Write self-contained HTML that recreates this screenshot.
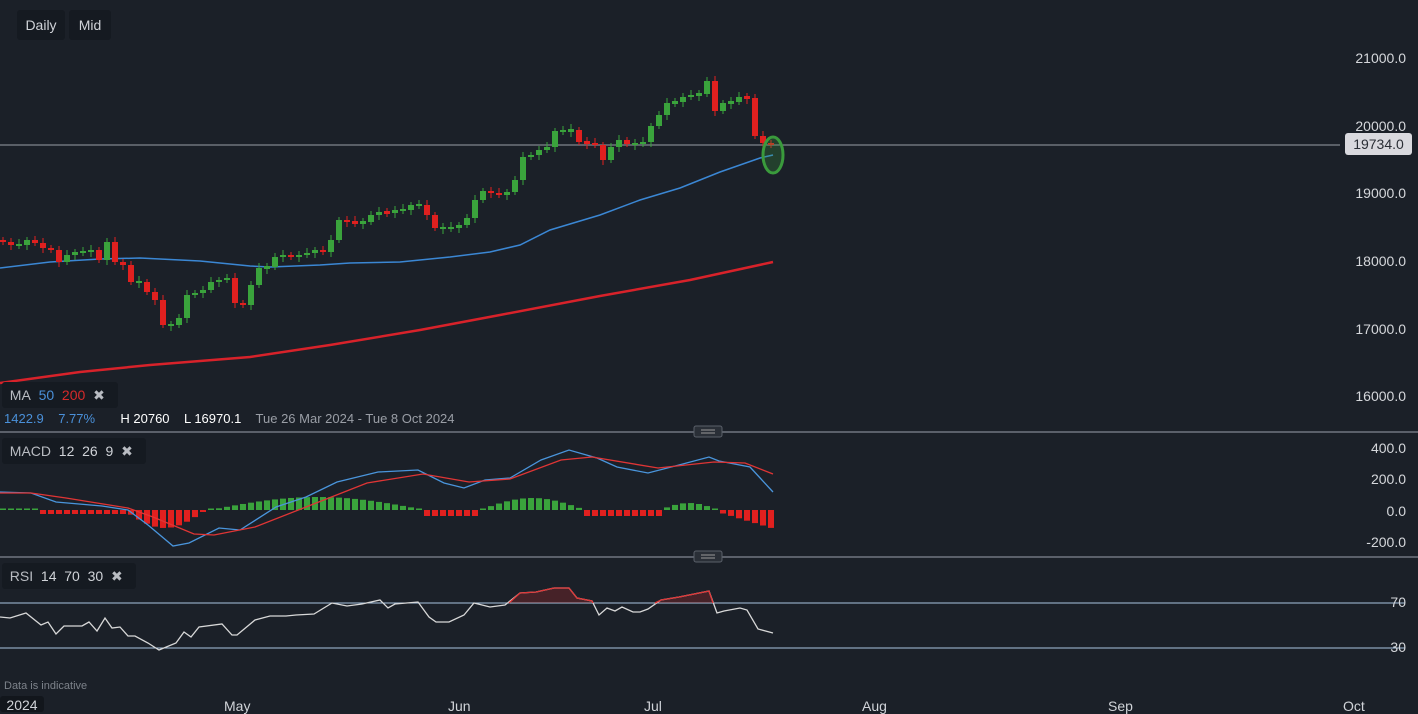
<!DOCTYPE html>
<html><head><meta charset="utf-8"><style>
html,body{margin:0;padding:0;background:#1b2028;width:1418px;height:712px;overflow:hidden;font-family:"Liberation Sans",sans-serif}
.t{position:absolute;font-size:13px;color:#d0d3d8}
.box{position:absolute;background:#151a21;border-radius:3px;color:#d0d3d8;font-size:14px}
.ax{position:absolute;right:12px;font-size:14px;color:#d5d7db;text-align:right}
</style></head><body>
<svg id="s" width="1418" height="712" style="position:absolute;left:0;top:0"></svg>
<div class="box" style="left:17px;top:10px;width:48px;height:30px;line-height:30px;text-align:center">Daily</div>
<div class="box" style="left:69px;top:10px;width:42px;height:30px;line-height:30px;text-align:center">Mid</div>
<div class="box" style="left:2px;top:382px;width:116px;height:26px;line-height:26px;font-size:14px">&nbsp;&nbsp;<span style="color:#b9bcc2">MA</span>&nbsp; <span style="color:#4a90d9">50</span>&nbsp; <span style="color:#d62a2a">200</span>&nbsp; <span style="color:#b9bcc2">✖</span></div>
<div class="t" style="left:4px;top:411px;font-size:13px"><span style="color:#4a90d9">1422.9&nbsp;&nbsp;&nbsp; 7.77%</span>&nbsp;&nbsp;&nbsp;&nbsp;&nbsp;&nbsp; <span style="color:#fff">H 20760&nbsp;&nbsp;&nbsp; L 16970.1</span>&nbsp;&nbsp;&nbsp; <span style="color:#9a9ea6">Tue 26 Mar 2024 - Tue 8 Oct 2024</span></div>
<div class="box" style="left:2px;top:438px;width:144px;height:26px;line-height:26px">&nbsp;&nbsp;<span style="color:#b9bcc2">MACD</span>&nbsp; 12&nbsp; 26&nbsp; 9&nbsp; <span style="color:#b9bcc2">✖</span></div>
<div class="box" style="left:2px;top:563px;width:134px;height:26px;line-height:26px">&nbsp;&nbsp;<span style="color:#b9bcc2">RSI</span>&nbsp; 14&nbsp; 70&nbsp; 30&nbsp; <span style="color:#b9bcc2">✖</span></div>
<div class="t" style="left:4px;top:680px;font-size:11px;color:#7d828a">Data is indicative</div>
<div class="box" style="left:0;top:696px;width:44px;height:16px;line-height:18px;font-size:14px;text-align:center;background:#12161c">2024</div>
<div class="t" style="left:224px;top:698px;font-size:14px">May</div>
<div class="t" style="left:448px;top:698px;font-size:14px">Jun</div>
<div class="t" style="left:644px;top:698px;font-size:14px">Jul</div>
<div class="t" style="left:862px;top:698px;font-size:14px">Aug</div>
<div class="t" style="left:1108px;top:698px;font-size:14px">Sep</div>
<div class="t" style="left:1343px;top:698px;font-size:14px">Oct</div>
<div class="ax" style="top:50px">21000.0</div>
<div class="ax" style="top:118px">20000.0</div>
<div class="ax" style="top:185px">19000.0</div>
<div class="ax" style="top:253px">18000.0</div>
<div class="ax" style="top:321px">17000.0</div>
<div class="ax" style="top:388px">16000.0</div>
<div style="position:absolute;left:1345px;top:133px;width:67px;height:22px;background:#d9d9de;border-radius:3px;color:#2a2e35;font-size:14px;line-height:22px;text-align:center">19734.0</div>
<div class="ax" style="top:440px">400.0</div>
<div class="ax" style="top:471px">200.0</div>
<div class="ax" style="top:503px">0.0</div>
<div class="ax" style="top:534px">-200.0</div>
<div class="ax" style="top:594px;right:12px">70</div>
<div class="ax" style="top:639px;right:12px">30</div>
<script>
var s=document.getElementById('s'),h='';
function L(x1,y1,x2,y2,c,w){h+='<line x1="'+x1+'" y1="'+y1+'" x2="'+x2+'" y2="'+y2+'" stroke="'+c+'" stroke-width="'+(w||1)+'"/>';}
function P(pts,c,w){h+='<polyline fill="none" stroke="'+c+'" stroke-width="'+w+'" points="'+pts.map(function(p){return p.join(',')}).join(' ')+'"/>';}
// separators
L(0,432,1418,432,'#5b606a',2);L(0,557,1418,557,'#5b606a',2);
h+='<rect x="694" y="426" width="28" height="11" rx="2" fill="#2a2f37" stroke="#5b606a"/><line x1="701" y1="430" x2="715" y2="430" stroke="#999"/><line x1="701" y1="433" x2="715" y2="433" stroke="#999"/>';
h+='<rect x="694" y="551" width="28" height="11" rx="2" fill="#2a2f37" stroke="#5b606a"/><line x1="701" y1="555" x2="715" y2="555" stroke="#999"/><line x1="701" y1="558" x2="715" y2="558" stroke="#999"/>';
L(0,145,1340,145,'#9a9ea6',1);
// MA200
P([[0,383],[80,372],[150,365],[250,357],[330,345],[420,330],[500,315],[600,296],[690,280],[773,262]],'#d8222a',2.5);
// MA50
P([[0,268],[50,262],[100,259],[140,258],[200,261],[250,266],[270,267],[320,265],[350,263],[400,262],[450,257],[490,252],[520,245],[550,230],[600,215],[640,200],[680,188],[720,172],[760,158],[773,155]],'#3b87d4',1.5);
var c=[242,245,245,240,243,248,250,262,255,252,252,250,260,242,262,265,282,282,292,300,325,325,318,295,293,290,282,280,278,303,305,285,268,267,257,255,257,255,253,250,252,240,220,222,223,222,215,212,213,210,210,205,205,215,228,228,228,225,218,200,191,193,195,192,180,157,155,150,147,131,131,130,142,143,145,160,147,140,144,144,142,126,115,103,102,97,95,94,81,111,103,102,97,98,136,143,145];
for(var i=0;i<c.length;i++){var x=3+i*8,o=i?c[i-1]:240,cl=c[i];var up=cl<=o;var col=up?'#3aa33c':'#e0201f';var t=Math.min(o,cl),b=Math.max(o,cl);if(b-t<2){t-=1;b+=1;}
L(x,t-3-(i%3),x,b+3+(i%2)*2,col,1);h+='<rect x="'+(x-3)+'" y="'+t+'" width="6" height="'+(b-t)+'" fill="'+col+'"/>';}
h+='<ellipse cx="773" cy="155" rx="10" ry="18" fill="rgba(58,160,60,0.25)" stroke="#3a9a3c" stroke-width="3"/>';
// MACD histogram
var hist=[];for(var i=0;i<97;i++){var x=3+i*8,v;
if(x<40)v=0;else if(x<130)v=-4;else if(x<200)v=-4-14*Math.sin((x-130)/70*Math.PI);else if(x<210)v=-2;else if(x<425)v=Math.sin((x-210)/215*Math.PI)*13;else if(x<480)v=-6;else if(x<585)v=Math.sin((x-480)/105*Math.PI)*12;else if(x<660)v=-6;else if(x<718)v=Math.sin((x-660)/58*Math.PI)*7;else v=-(2+(x-718)*0.3);
var y0=510;var col=v>=0?'#3aa33c':'#e0201f';var hh=Math.max(Math.abs(v),1.5);h+='<rect x="'+(x-3)+'" y="'+(v>=0?y0-hh:y0)+'" width="6" height="'+hh+'" fill="'+col+'"/>';}
P([[0,492],[31,493],[56,502],[102,506],[128,510],[148,525],[173,546],[189,543],[219,528],[240,530],[276,507],[306,497],[337,482],[378,472],[418,470],[444,483],[464,488],[485,480],[510,478],[541,460],[569,450],[597,458],[617,467],[648,473],[679,465],[709,457],[719,461],[750,467],[773,492]],'#4a95dc',1.3);
P([[0,493],[31,493],[66,498],[128,508],[153,517],[194,534],[214,535],[255,527],[306,507],[367,483],[423,474],[469,482],[510,479],[561,460],[592,457],[658,468],[714,462],[745,463],[773,474]],'#e03535',1.3);
// RSI
L(0,603,1405,603,'#a9c4e0',1);L(0,648,1405,648,'#a9c4e0',1);
var r=[[0,617],[10,618],[26,613],[41,625],[48,622],[56,634],[64,626],[82,626],[89,622],[97,631],[105,618],[112,628],[120,627],[128,636],[135,636],[148,643],[159,650],[176,643],[184,632],[191,637],[199,627],[222,624],[232,635],[237,635],[255,620],[270,616],[286,616],[296,615],[314,614],[332,603],[347,606],[362,604],[380,600],[388,608],[395,604],[418,602],[429,617],[436,622],[449,622],[464,615],[474,603],[490,607],[505,605],[520,593],[536,592],[554,588],[569,588],[577,598],[592,601],[599,615],[607,608],[615,611],[622,607],[633,612],[640,612],[648,609],[661,600],[679,597],[694,594],[709,591],[717,613],[724,611],[740,608],[747,610],[758,629],[773,633]];
h+='<polygon fill="rgba(200,40,40,0.25)" points="509,603 520,593 536,592 554,588 569,588 577,598 592,601 593,603"/>';
h+='<polygon fill="rgba(200,40,40,0.25)" points="655,603 661,600 679,597 694,594 709,591 713,603"/>';
P(r,'#d8d8d8',1.3);
P([[509,603],[520,593],[536,592],[554,588],[569,588],[577,598],[592,601],[593,603]],'#e03535',1.3);
P([[655,603],[661,600],[679,597],[694,594],[709,591],[713,603]],'#e03535',1.3);
s.innerHTML=h;
</script>
</body></html>
